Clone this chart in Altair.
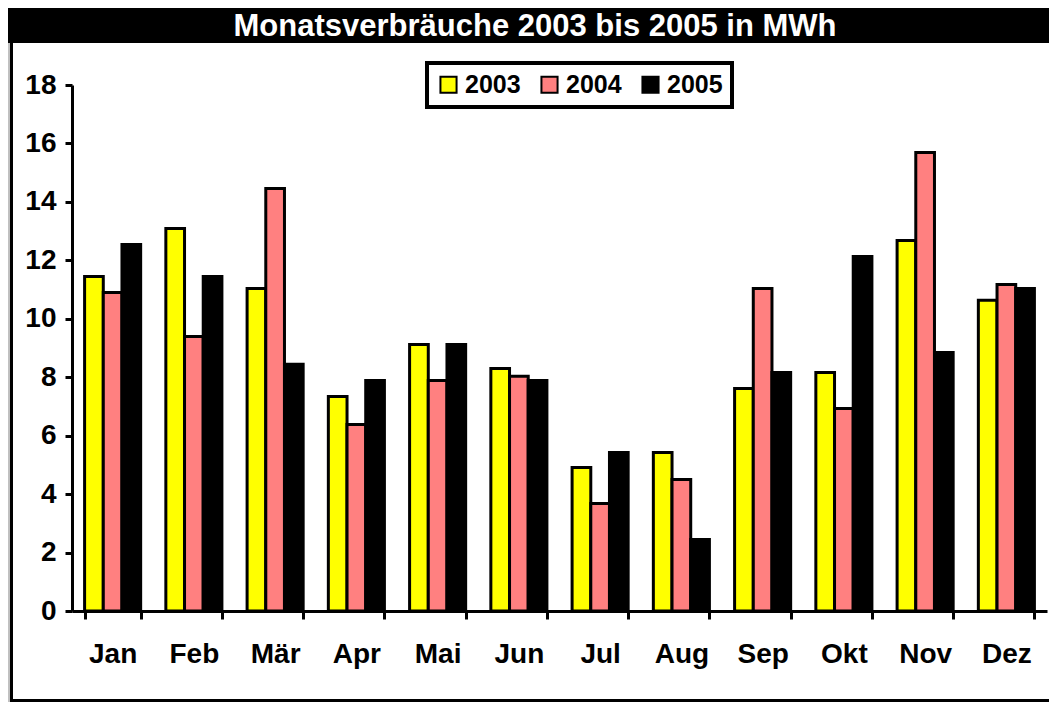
import altair as alt
import pandas as pd

months = ["Jan", "Feb", "Mär", "Apr", "Mai", "Jun", "Jul", "Aug", "Sep", "Okt", "Nov", "Dez"]
years = ["2003", "2004", "2005"]
v2003 = [11.45, 13.09, 11.04, 7.34, 9.12, 8.30, 4.91, 5.42, 7.61, 8.16, 12.68, 10.63]
v2004 = [10.90, 9.39, 14.46, 6.38, 7.89, 8.03, 3.68, 4.50, 11.04, 6.93, 15.69, 11.17]
v2005 = [12.54, 11.45, 8.44, 7.89, 9.12, 7.89, 5.42, 2.45, 8.16, 12.13, 8.85, 11.04]
colors = ["#FFFF00", "#FF8080", "#000000"]
y_ticks = list(range(0, 19, 2))
title_text = "Monatsverbräuche 2003 bis 2005 in MWh"

FONT = "Liberation Sans Narrow, Arial Narrow, Liberation Sans, sans-serif"

rows = []
for yr, vals in zip(years, [v2003, v2004, v2005]):
    for m, v in zip(months, vals):
        rows.append({"Monat": m, "Jahr": yr, "MWh": v})
df = pd.DataFrame(rows)

W, H = 975, 526

bars = alt.Chart(df).mark_bar(stroke="black", strokeWidth=3, strokeJoin="miter").encode(
    x=alt.X("Monat:N", sort=months, title=None,
            scale=alt.Scale(paddingInner=0.31, paddingOuter=0.155),
            axis=alt.Axis(labelAngle=0, tickBand="extent", labelPadding=21,
                          labelFontSize=28, tickSize=8)),
    xOffset=alt.XOffset("Jahr:N", sort=years, scale=alt.Scale(paddingInner=0, paddingOuter=0)),
    y=alt.Y("MWh:Q", title=None, scale=alt.Scale(domain=[0, 18], nice=False),
            axis=alt.Axis(values=y_ticks, tickSize=7, labelPadding=9, labelFontSize=28)),
    color=alt.Color("Jahr:N", sort=years,
                    scale=alt.Scale(domain=years, range=colors),
                    legend=alt.Legend(title=None, orient="none", direction="horizontal",
                                      legendX=355, legendY=-22)),
)

one = pd.DataFrame({"k": [0]})

title_bar = alt.Chart(one).mark_rect(color="black").encode(
    x=alt.value(-64), x2=alt.value(W + 2), y=alt.value(-77), y2=alt.value(-42))
gray_strip = alt.Chart(one).mark_rect(color="#C0C0C0").encode(
    x=alt.value(-64), x2=alt.value(-62), y=alt.value(-42), y2=alt.value(617))
left_line = alt.Chart(one).mark_rect(color="black").encode(
    x=alt.value(-62), x2=alt.value(-59), y=alt.value(-42), y2=alt.value(617))
bottom_line = alt.Chart(one).mark_rect(color="black").encode(
    x=alt.value(-62), x2=alt.value(W + 2), y=alt.value(614), y2=alt.value(617))
title = alt.Chart(one).mark_text(
    text=title_text, color="white", font=FONT, fontWeight="bold", fontSize=31,
    align="center", baseline="middle").encode(x=alt.value(463), y=alt.value(-58))

chart = alt.layer(title_bar, gray_strip, left_line, bottom_line, bars, title).properties(
    width=W, height=H,
    autosize=alt.AutoSizeParams(type="none"),
    padding={"left": 64, "top": 77, "right": 2, "bottom": 91},
    background="white",
).configure_view(stroke=None).configure_axis(
    domainColor="black", domainWidth=3, tickColor="black", tickWidth=3,
    grid=False, labelColor="black", labelFont=FONT, labelFontWeight="bold",
).configure_legend(
    strokeColor="black", strokeWidth=4, fillColor="white", padding=9,
    symbolType="square", symbolSize=260, symbolStrokeColor="black", symbolStrokeWidth=2,
    symbolOpacity=1, labelFont=FONT, labelFontWeight="bold", labelFontSize=25,
    labelColor="black", columnPadding=16, symbolOffset=0,
)

chart.save("out.html", embed_options={"renderer": "svg", "actions": False})
